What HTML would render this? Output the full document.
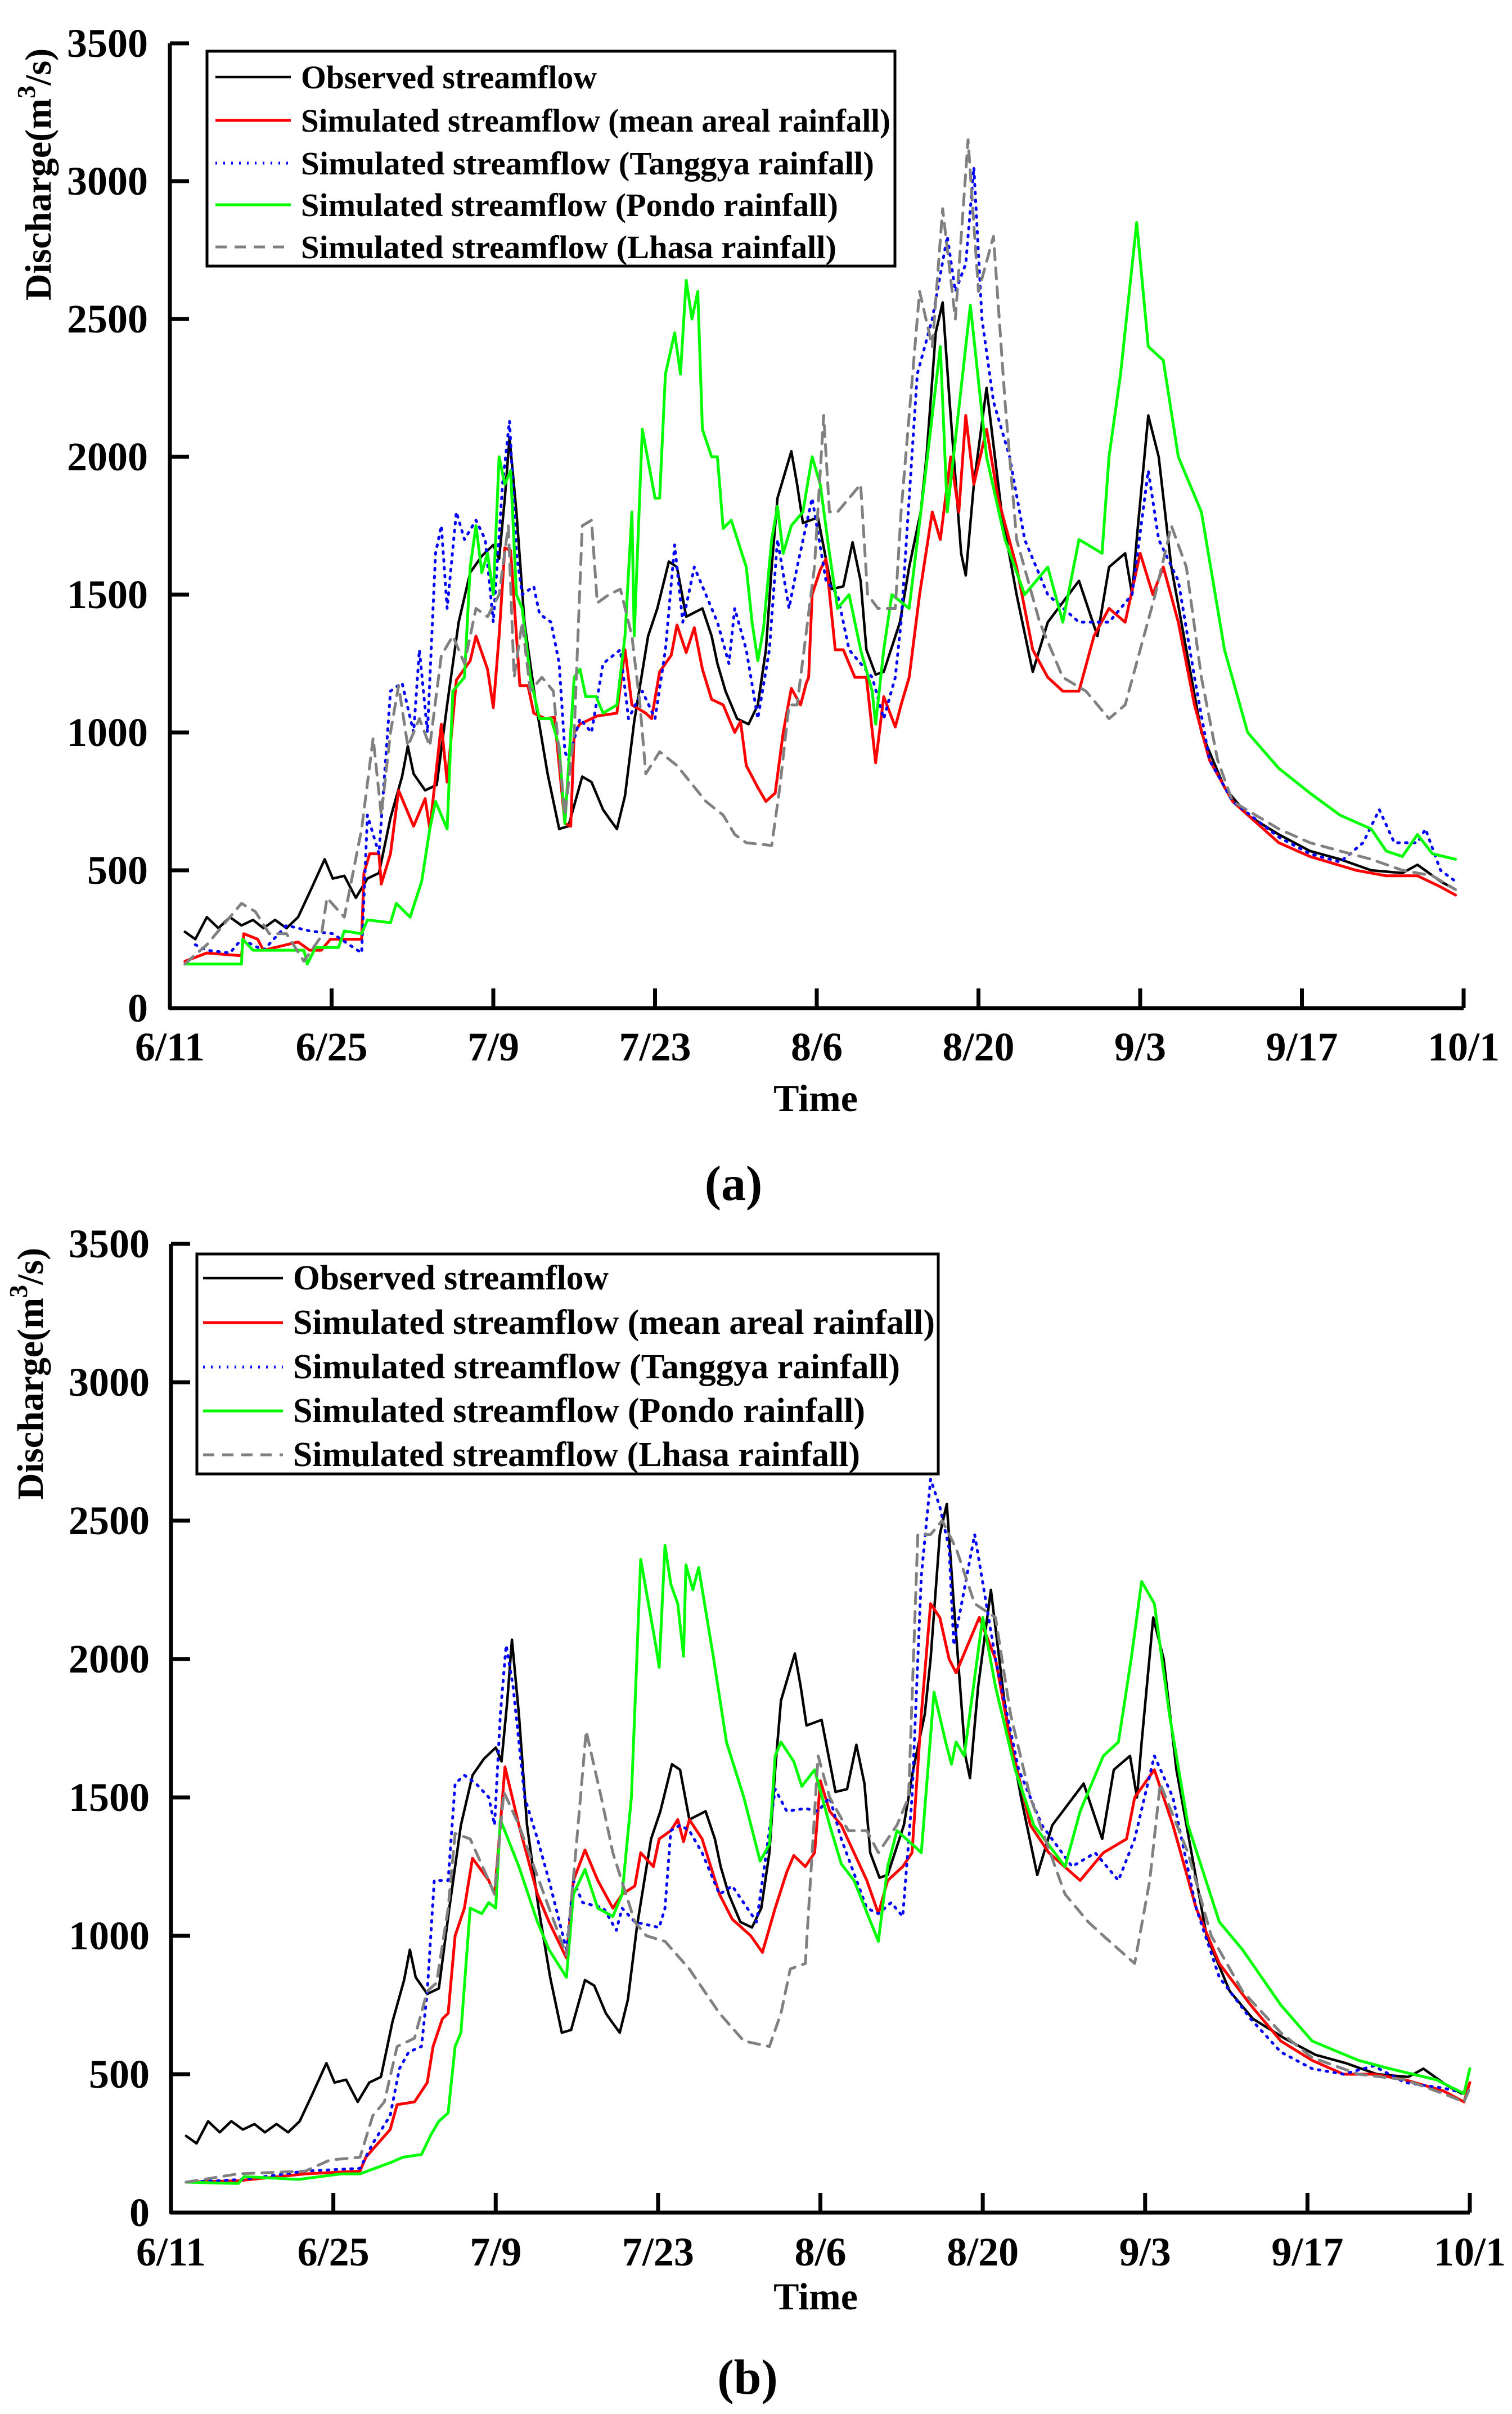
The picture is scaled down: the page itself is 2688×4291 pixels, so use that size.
<!DOCTYPE html>
<html><head><meta charset="utf-8">
<style>
html,body{margin:0;padding:0;background:#fff;}
svg{display:block;}
text{font-family:"Liberation Serif",serif;font-weight:bold;fill:#000;}
</style></head>
<body>
<svg id="fig" width="2688" height="4291" viewBox="0 0 2688 4291" xmlns="http://www.w3.org/2000/svg">
<g id="chartA"></g>
<g id="chartB"></g>
<text x="1304" y="2133" font-size="88" text-anchor="middle">(a)</text>
<text x="1329" y="4255" font-size="88" text-anchor="middle">(b)</text>
</svg>
<script>
// ---- data ----
const tickLabels = ["6/11","6/25","7/9","7/23","8/6","8/20","9/3","9/17","10/1"];
const tickDays = [0,14,28,42,56,70,84,98,112];
const yTicks = [0,500,1000,1500,2000,2500,3000,3500];
const seriesNames = ["Observed streamflow","Simulated streamflow (mean areal rainfall)","Simulated streamflow (Tanggya rainfall)","Simulated streamflow (Pondo rainfall)","Simulated streamflow (Lhasa rainfall)"];

const obsDays = [1.3,2.2,3.2,4.2,5.2,6.2,7.2,8.1,9.1,10.1,11.1,12.1,13.4,14.1,15.1,16.1,17.1,18.1,19.1,20.1,20.6,21.1,22.1,23.1,24.0,25.0,26.0,27.0,28.0,28.5,29.0,29.4,30.0,30.7,31.7,32.7,33.7,34.5,35.7,36.5,37.5,38.0,38.7,39.4,40.2,41.4,42.2,43.2,43.9,44.7,46.1,46.9,47.4,48.1,49.1,50.1,50.9,51.6,52.1,52.6,53.8,54.3,54.8,56.1,57.3,58.3,59.1,59.8,60.3,61.1,61.8,63.2,64,65,65.5,66.3,66.9,67.5,68.5,68.9,69.6,70.7,72,73.3,74.7,76,78.7,80.3,81.3,82.7,83.3,83.7,84.7,85.6,86.7,88,89.3,91.3,93.3,96,98.7,101.3,104,106.7,108,110,111.3];
const obsVals = [277,250,330,290,330,300,320,290,320,290,330,420,540,470,480,400,470,490,690,840,950,850,790,810,1100,1400,1580,1640,1680,1630,1850,2070,1800,1400,1100,850,650,660,840,820,720,690,650,770,1040,1350,1450,1620,1600,1420,1450,1350,1250,1150,1050,1030,1100,1300,1600,1850,2020,1900,1760,1780,1520,1530,1690,1550,1300,1210,1220,1400,1600,1800,2000,2450,2560,2200,1650,1570,1900,2250,1800,1500,1220,1400,1550,1350,1600,1650,1500,1700,2150,2000,1600,1300,1000,800,700,630,570,540,500,490,520,460,430];

// chart (a)
const aRedDays = [1.3,3.2,6.2,6.4,7.6,8.1,11.1,12.1,13.1,13.9,16.6,16.8,17.3,18.1,18.3,19.1,19.8,21.1,22.1,22.5,23.5,24.0,24.8,26.0,26.5,27.5,28.0,28.5,29.0,29.5,30.3,31.0,31.5,32.5,33.3,34.2,34.7,35.0,35.5,37,38.7,39.4,40,41.2,41.7,42.4,43.4,43.9,44.7,45.4,46.1,46.9,47.9,48.9,49.4,49.9,50.9,51.6,52.4,53.1,53.8,54.6,55.1,55.3,55.6,56.3,56.8,57.6,58.3,59.3,60.3,61.1,61.8,62.8,63.3,64,64.9,66,66.7,67.6,68.3,68.9,69.6,70.7,71.7,73.3,74.7,76,77.3,78.7,80,81.3,82.7,84,85.1,86,87.3,88.7,90,92,96,98.7,102.7,105.3,108,110,111.3];
const aRedVals = [170,200,190,270,250,210,240,210,210,250,250,490,560,560,450,560,790,660,760,650,1030,820,1190,1260,1350,1230,1090,1350,1670,1660,1170,1170,1070,1050,1055,670,660,1000,1030,1060,1070,1300,1100,1070,1050,1220,1280,1390,1290,1380,1230,1120,1100,1000,1040,880,800,750,780,1000,1160,1100,1180,1200,1500,1590,1630,1300,1300,1200,1200,890,1130,1020,1100,1200,1500,1800,1700,2000,1800,2150,1900,2100,1850,1600,1300,1200,1150,1150,1350,1450,1400,1650,1500,1600,1400,1100,900,750,600,550,500,480,480,440,410];
const aBlueDays = [2.2,3.2,5.2,6.2,8.1,10.1,12.1,14.1,16.6,17.1,18.1,19.1,20.1,21.1,21.6,22.3,23,23.5,24,24.8,25.5,26.5,27.3,28,28.8,29.4,30,30.5,31.5,32,33,33.7,34.2,34.5,35.5,36.5,37.5,39,39.7,40.9,42,42.9,43.7,44.4,45.4,46.4,47.4,48.4,48.9,49.9,50.9,51.9,52.6,53.6,54.3,55.6,56.8,57.8,58.8,59.8,60.8,61.8,62.8,63.3,64.7,66,67.3,68,68.9,69.6,70.3,71.3,72.7,74,76,78.7,81.3,83.3,84.7,85.6,87.3,88.7,90,92,96,98.7,101.3,103.3,104.7,106,108,108.7,110,111.3];
const aBlueVals = [230,210,200,250,210,300,280,270,200,700,560,1150,1180,1000,1300,1000,1650,1750,1450,1800,1700,1770,1700,1400,1900,2130,1650,1500,1530,1430,1400,1250,930,900,1050,1000,1250,1300,1050,1150,1050,1300,1680,1400,1600,1500,1400,1250,1450,1300,1050,1300,1700,1450,1600,1850,1550,1500,1300,1250,1200,1050,1200,1400,2300,2500,2800,2600,2700,3050,2500,2200,2000,1700,1500,1400,1400,1500,1950,1700,1550,1200,900,750,620,560,530,600,720,600,600,650,500,460];
const aGreenDays = [1.3,6.2,6.3,7.2,11.6,11.9,12.6,14.6,15.1,16.6,17.1,19.1,19.6,20.8,21.8,22.5,23,23.5,24,24.5,25.5,26,26.5,27,27.5,28,28.5,29,29.5,30,30.5,31.2,32,33,33.7,34.2,34.7,35,35.5,36,36.9,37.5,38.7,39.4,40,40.2,40.9,42,42.4,42.9,43.7,44.2,44.7,45.2,45.7,46.1,46.9,47.4,47.9,48.6,49.9,50.4,50.9,51.4,52.1,52.6,53.1,53.8,54.8,55.6,56.3,57.1,57.8,58.8,59.8,60.8,61.1,61.8,62.5,64,65.3,66.7,67.3,69.3,70.7,72.3,74,76,77.3,78.7,80.7,81.3,82.3,83.7,84.7,86,87.3,89.3,91.3,93.3,96,98.7,101.3,104,105.3,106.7,108,109.3,111.3];
const aGreenVals = [160,160,250,210,210,160,220,220,280,270,320,310,380,330,460,650,750,700,650,1150,1200,1600,1750,1580,1650,1500,2000,1900,1950,1500,1450,1200,1050,1050,950,670,1000,1200,1230,1130,1130,1070,1100,1350,1800,1350,2100,1850,1850,2300,2450,2300,2640,2500,2600,2100,2000,2000,1740,1770,1600,1400,1260,1380,1700,1820,1650,1750,1800,2000,1900,1650,1450,1500,1300,1150,1030,1300,1500,1450,1900,2400,1800,2550,2000,1700,1500,1600,1400,1700,1650,2000,2300,2850,2400,2350,2000,1800,1300,1000,870,780,700,650,570,550,630,560,540];
const aGrayDays = [1.3,3.2,6.2,7.4,8.6,10.1,11.6,13.1,13.6,15.1,16.6,17.6,18.3,19.1,19.8,20.6,21.6,22.5,23.5,24.5,25.5,26.5,27.5,28.5,29.3,29.8,30.5,31.2,32.2,33.2,34.2,35,35.7,36.5,37,38,39,40,40.7,41.2,42.4,43.9,46.4,47.9,48.9,49.9,52.1,52.8,53.6,54.3,55.8,56.6,57.1,57.8,58.8,59.8,60.4,61.3,62.8,63.3,64.9,66,66.9,68,69.1,70,71.3,72.3,73.3,75.3,77.3,79.3,81.3,82.7,84,85.3,86.7,88,89.3,90.7,92,96,98.7,101.3,104,106.7,109.3,111.3];
const aGrayVals = [160,230,380,350,270,270,170,260,400,330,650,980,700,1000,1170,950,1050,950,1280,1350,1250,1450,1420,1500,1750,1200,1400,1150,1200,1150,700,1000,1750,1770,1470,1500,1520,1350,1100,850,930,880,750,700,630,600,590,800,1100,1100,1600,2150,1800,1800,1850,1900,1500,1450,1450,1800,2600,2400,2900,2500,3150,2600,2800,2200,1700,1400,1200,1150,1050,1100,1300,1500,1750,1600,1200,900,750,650,600,570,540,500,480,430];

// chart (b)
const bRedDays = [1.3,5.8,11.6,16.3,16.8,18.9,19.5,21,22.1,22.6,23.4,23.9,24.5,25.3,26,27.4,27.9,28.4,28.8,30,31.6,32.6,34.1,34.7,35.7,36.8,38.1,38.9,40,40.5,41.6,42.1,43.1,43.7,44.2,44.7,45.8,47.3,48.4,50,51,52.1,53.1,53.7,54.7,55.5,56,56.8,57.8,58.9,60,61,61.8,63.1,63.9,64.7,65.5,66.3,67.1,67.7,69.7,71.1,72.4,74.1,75.7,78.4,80.4,82.4,83.1,84.8,86.4,88.4,90.4,93.1,95.7,98.4,101.1,103.7,106.4,109.7,111.5,112];
const bRedVals = [110,115,140,150,200,300,390,400,470,600,700,720,1000,1100,1280,1200,1150,1400,1610,1400,1150,1050,920,1200,1310,1200,1100,1150,1180,1300,1250,1350,1380,1420,1340,1420,1350,1150,1060,1000,940,1100,1230,1290,1250,1300,1560,1450,1400,1300,1200,1080,1200,1250,1300,1800,2200,2150,2000,1950,2150,2000,1700,1400,1300,1200,1300,1350,1500,1600,1400,1100,900,750,620,550,500,500,480,440,400,470];
const bBlueDays = [1.3,6.3,11.6,16.3,17.4,18.9,19.7,20.5,21.6,22.1,22.7,23.9,24.5,25.3,26.3,27.4,27.9,28.4,28.9,29.5,30.5,31.6,32.6,34.1,34.7,35.5,37.3,38.4,38.9,40,42.1,42.6,43.1,43.9,44.7,45.8,47.3,48.4,50.5,52.1,53.1,54.7,55.8,56.8,57.8,60,61,62.1,63.1,63.9,64.7,65.5,66.3,67.1,67.5,69.3,71.1,73.1,75.1,77.7,79.7,81.7,83.1,84.8,86.4,88.4,90.4,93.1,95.7,98.4,101.1,103.7,106.4,109.7,111.7];
const bBlueVals = [110,120,150,160,250,350,520,580,600,800,1200,1200,1550,1580,1550,1500,1400,1800,2050,1900,1500,1350,1200,950,1200,1120,1100,1020,1100,1050,1030,1100,1380,1400,1380,1300,1150,1180,1050,1530,1450,1460,1450,1500,1350,1100,1080,1120,1070,1500,2300,2650,2550,2400,2050,2450,2000,1600,1400,1250,1300,1200,1350,1650,1500,1100,850,700,580,520,500,530,470,450,430];
const bGreenDays = [1.3,5.8,6.3,11,14.7,16.3,18.9,20,21.6,22.4,23.1,23.9,24.5,25,25.8,26.8,27.4,28,28.4,30,31.6,32.6,34.1,34.7,35.7,36.8,38.1,38.9,39.7,40.5,41.8,42.1,42.6,43.1,43.7,44.2,44.4,45,45.5,46.8,47.9,49.4,50.8,51.6,52.1,52.6,53.7,54.4,55.5,56.8,57.8,58.9,61,61.8,62.6,64.2,64.7,65.8,66.8,67.3,67.7,68.4,70,71.1,72.8,74.4,77.1,78.4,80.4,81.7,82.8,83.7,84.8,86.1,87.7,90.4,92.4,95.7,98.4,102.4,105.1,109.1,111.5,112];
const bGreenVals = [110,105,130,120,140,140,180,200,210,280,330,360,600,650,1100,1080,1120,1100,1420,1250,1050,950,850,1150,1240,1100,1070,1150,1500,2360,2050,1970,2410,2270,2200,2010,2340,2250,2330,2000,1700,1500,1270,1330,1650,1700,1630,1540,1600,1400,1260,1200,980,1250,1380,1320,1300,1880,1700,1620,1700,1650,2150,1900,1600,1400,1250,1450,1650,1700,2000,2280,2200,1800,1400,1050,950,750,620,550,520,480,430,520];
const bGrayDays = [1.3,5.8,11.6,13.7,16.3,17.4,18.4,19.5,21,22.1,22.9,23.9,24.5,25.8,27.4,27.9,28.7,30,32.6,34.1,35,35.8,37.1,38.1,40,41,42.6,44.7,47.3,49.4,51.6,52.6,53.4,54.7,55.8,56.8,58.4,60,61,62.6,63.6,64.4,65.5,66.5,67.7,69.3,71.1,72.4,74.1,77.1,79.1,80.4,83.1,84.4,85.3,87.7,89.7,92.4,95.7,98.4,102.4,106.4,109.7,111.5,112];
const bGrayVals = [110,140,150,190,200,350,400,600,630,800,830,1100,1370,1350,1200,1150,1520,1400,1100,930,1350,1740,1500,1300,1050,1000,980,880,720,620,600,720,880,900,1650,1500,1380,1380,1300,1400,1500,2450,2450,2500,2400,2200,2150,1800,1500,1150,1050,1000,900,1200,1550,1300,1000,800,650,560,500,480,430,400,450];

// ---- drawing ----
const NS = "http://www.w3.org/2000/svg";
const styles = [
  {stroke:"#000000", w:4.5, dash:null},
  {stroke:"#ff0000", w:5, dash:null},
  {stroke:"#0000ff", w:5, dash:"3 11"},
  {stroke:"#00ff00", w:5, dash:null},
  {stroke:"#808080", w:5, dash:"20 14"}
];
const seriesKeys = ["observed","mean-areal","tanggya","pondo","lhasa"];

function mk(tag, attrs, parent){
  const e = document.createElementNS(NS, tag);
  for (const k in attrs) e.setAttribute(k, attrs[k]);
  parent.appendChild(e);
  return e;
}

function drawChart(g, cfg, series){
  const sx = d => cfg.x0 + (cfg.x1 - cfg.x0) * d / 112;
  const sy = v => cfg.y0 - (cfg.y0 - cfg.y1) * v / 3500;
  series.forEach((s, i) => {
    let d = "";
    s.days.forEach((dd, j) => { d += (j ? "L" : "M") + sx(dd).toFixed(1) + "," + sy(s.vals[j]).toFixed(1); });
    const p = mk("path", {d:d, fill:"none", stroke:styles[i].stroke, "stroke-width":styles[i].w, "stroke-linejoin":"round", "stroke-linecap":"round"}, g);
    if (styles[i].dash) p.setAttribute("stroke-dasharray", styles[i].dash);
    
    
  });
  const ax = mk("path", {d:`M${cfg.x0},${sy(3500)} L${cfg.x0},${cfg.y0} L${cfg.x1},${cfg.y0}`, fill:"none", stroke:"#000", "stroke-width":7, "stroke-linejoin":"round"}, g);
  
  
  yTicks.forEach(v => {
    const t = mk("line", {x1:cfg.x0, x2:cfg.x0 + 34, y1:sy(v), y2:sy(v), stroke:"#000", "stroke-width":7}, g);
    
    
    const lb = mk("text", {x:cfg.ylx, y:sy(v) + 24, "font-size":72, "text-anchor":"end"}, g);
    lb.textContent = v;
    
    
  });
  tickDays.forEach((dd, i) => {
    const t = mk("line", {x1:sx(dd), x2:sx(dd), y1:cfg.y0, y2:cfg.y0 - 35, stroke:"#000", "stroke-width":7}, g);
    
    
    const lb = mk("text", {x:sx(dd), y:cfg.xly, "font-size":72, "text-anchor":"middle"}, g);
    lb.textContent = tickLabels[i];
    
    
  });
  const xt = mk("text", {x:cfg.timeX, y:cfg.timeY, "font-size":68, "text-anchor":"middle"}, g);
  xt.textContent = "Time";
  
  
  const yt = mk("text", {x:0, y:0, "font-size":66, "text-anchor":"middle", transform:`translate(${cfg.ytX},${cfg.ytY}) rotate(-90)`}, g);
  
  
  yt.innerHTML = 'Discharge(m<tspan dy="-28" font-size="46">3</tspan><tspan dy="28">/s)</tspan>';
  const L = cfg.leg;
  const box = mk("rect", {x:L.x, y:L.y, width:L.w, height:L.h, fill:"#fff", stroke:"#000", "stroke-width":5}, g);
  
  
  seriesNames.forEach((nm, i) => {
    const ly = L.rows[i];
    const ln = mk("line", {x1:L.lx1, x2:L.lx2, y1:ly, y2:ly, stroke:styles[i].stroke, "stroke-width":styles[i].w}, g);
    if (styles[i].dash) ln.setAttribute("stroke-dasharray", styles[i].dash);
    
    
    const tx = mk("text", {x:L.tx, y:ly + 20, "font-size":L.fs, textLength:L.tw[i], lengthAdjust:"spacingAndGlyphs"}, g);
    tx.textContent = nm;
    
    
  });
}

drawChart(document.getElementById("chartA"), {
  x0:302, x1:2602, y0:1792, y1:77, ylx:263, xly:1885, timeX:1450, timeY:1975, ytX:90, ytY:310,
  leg:{x:368, y:91, w:1223, h:382, rows:[137,214,290,364,439], lx1:383, lx2:517, tx:535, fs:58, tw:[526,1048,1019,955,952]}
}, [
  {days:obsDays, vals:obsVals},
  {days:aRedDays, vals:aRedVals},
  {days:aBlueDays, vals:aBlueVals},
  {days:aGreenDays, vals:aGreenVals},
  {days:aGrayDays, vals:aGrayVals}
]);

drawChart(document.getElementById("chartB"), {
  x0:304, x1:2613, y0:3933, y1:2211, ylx:266, xly:4027, timeX:1450, timeY:4105, ytX:76, ytY:2442,
  leg:{x:350, y:2229, w:1318, h:391, rows:[2272,2351,2430,2508,2586], lx1:361, lx2:503, tx:521, fs:62, tw:[561,1141,1079,1017,1008]}
}, [
  {days:obsDays, vals:obsVals},
  {days:bRedDays, vals:bRedVals},
  {days:bBlueDays, vals:bBlueVals},
  {days:bGreenDays, vals:bGreenVals},
  {days:bGrayDays, vals:bGrayVals}
]);
</script>
</body></html>
